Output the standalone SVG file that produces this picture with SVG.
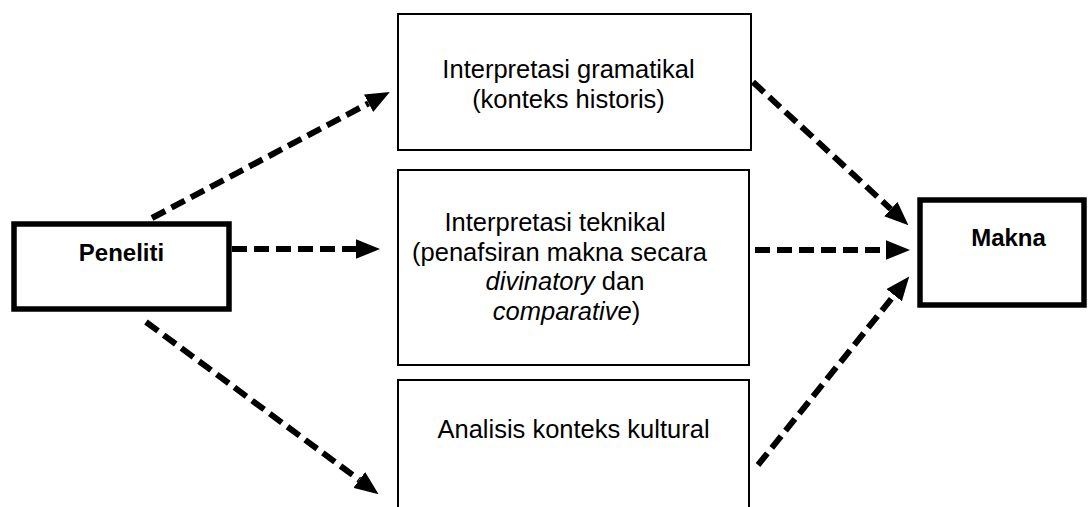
<svg xmlns="http://www.w3.org/2000/svg" width="1088" height="507" viewBox="0 0 1088 507">
<style>
.thick{fill:#fff;stroke:#000;stroke-width:5.5}
.thin{fill:#fff;stroke:#000;stroke-width:2}
.t{font-family:"Liberation Sans",Arial,sans-serif;font-size:25.5px;fill:#000;text-anchor:middle}
.b{font-weight:bold;font-size:24px}
.i{font-style:italic}
.conn{fill:none;stroke:#000;stroke-width:6;stroke-dasharray:15 7}
</style>
<defs>
<marker id="ah" markerUnits="userSpaceOnUse" markerWidth="24" markerHeight="20" refX="0" refY="9" orient="auto" viewBox="0 0 22 18">
<path d="M0,0 L22,9 L0,18 z" fill="#000"/>
</marker>
</defs>
<rect width="1088" height="507" fill="#fff"/>
<g id="connectors">
<path class="conn" d="M152,218 L368.6,103.3" marker-end="url(#ah)"/>
<path class="conn" d="M232,249 L356,249" marker-end="url(#ah)"/>
<path class="conn" d="M146,322 L359.3,479.9" marker-end="url(#ah)"/>
<path class="conn" d="M753,82 L890.8,209.1" marker-end="url(#ah)"/>
<path class="conn" d="M755,250 L886,250" marker-end="url(#ah)"/>
<path class="conn" d="M758,465 L894.2,295.2" marker-end="url(#ah)"/>
</g>
<g id="peneliti">
<rect class="thick" x="14" y="224" width="215" height="85"/>
<text class="t b" x="121.5" y="261">Peneliti</text>
</g>
<g id="gramatikal">
<rect class="thin" x="398" y="14" width="353" height="136"/>
<text class="t" x="568.5" y="78">Interpretasi gramatikal</text>
<text class="t" x="568.5" y="107.5">(konteks historis)</text>
</g>
<g id="teknikal">
<rect class="thin" x="398" y="170" width="351" height="195"/>
<text class="t" x="555" y="231">Interpretasi teknikal</text>
<text class="t" x="559.5" y="260.5">(penafsiran makna secara</text>
<text class="t" x="565" y="290"><tspan class="i">divinatory</tspan> dan</text>
<text class="t" x="566.5" y="319.5"><tspan class="i">comparative</tspan>)</text>
</g>
<g id="kultural">
<rect class="thin" x="398" y="380" width="351" height="140"/>
<text class="t" x="573.5" y="438">Analisis konteks kultural</text>
</g>
<g id="makna">
<rect class="thick" x="920" y="200" width="164" height="105"/>
<text class="t b" x="1008.5" y="246">Makna</text>
</g>
</svg>
